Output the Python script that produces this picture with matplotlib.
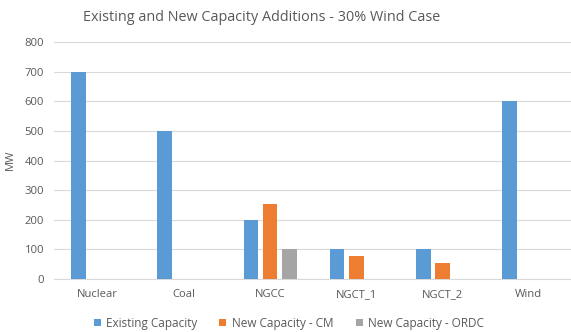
import matplotlib
matplotlib.use("Agg")
import matplotlib.pyplot as plt
import numpy as np

categories = ["Nuclear", "Coal", "NGCC", "NGCT_1", "NGCT_2", "Wind"]
existing = [700, 500, 200, 100, 100, 600]
new_cm = [0, 0, 255, 78, 53, 0]
new_ordc = [0, 0, 100, 0, 0, 0]
series_names = ["Existing Capacity", "New Capacity - CM", "New Capacity - ORDC"]
colors = ["#5b9bd5", "#ed7d31", "#a5a5a5"]
yticks = [0, 100, 200, 300, 400, 500, 600, 700, 800]

plt.rcParams['font.family'] = ['Open Sans', 'DejaVu Sans']
txt = "#595959"

fig = plt.figure(figsize=(5.71, 3.32), dpi=100)
ax = fig.add_axes([0.0954, 0.1596, 0.9063, 0.7130])

x = np.arange(len(categories))
w = 0.168
step = 0.223
for i, (vals, name, c) in enumerate(zip([existing, new_cm, new_ordc], series_names, colors)):
    ax.bar(x + (i - 1) * step, vals, width=w, color=c, label=name, zorder=3)

ax.set_xlim(-0.5, len(categories) - 0.5)
ax.set_ylim(0, 800)
ax.set_yticks(yticks)
ax.set_xticks(x)
ax.set_xticklabels(categories)
ax.tick_params(axis='both', length=0, colors=txt, labelsize=8.1)
ax.tick_params(axis='y', pad=7.5)
ax.tick_params(axis='x', pad=7)
ax.grid(axis='y', color='#d9d9d9', linewidth=0.8, zorder=0)
for s in ['top', 'right', 'left']:
    ax.spines[s].set_visible(False)
ax.spines['bottom'].set_color('#d9d9d9')
fig.text(0.019, 0.518, "MW", rotation=90, ha='center', va='center', color=txt, fontsize=8.1)

fig.text(0.458, 0.948, "Existing and New Capacity Additions - 30% Wind Case",
         ha='center', va='center', color=txt, fontsize=10.4)
fig.legend(loc='center', bbox_to_anchor=(0.506, 0.027), ncol=3, frameon=False,
           fontsize=8.45, handlelength=0.6, handleheight=0.6, columnspacing=1.85,
           handletextpad=0.5, labelcolor=txt)

fig.savefig("out.png", dpi=100, facecolor='white')
